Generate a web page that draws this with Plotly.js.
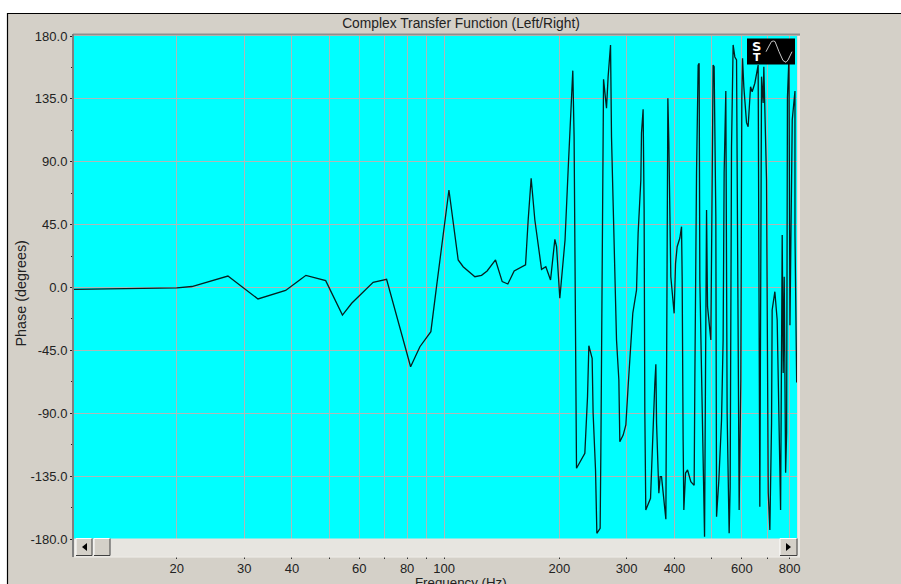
<!DOCTYPE html>
<html><head><meta charset="utf-8">
<script src="https://cdn.plot.ly/plotly-3.0.1.min.js"></script>
<style>html,body{margin:0;padding:0;background:#d4d0c8;overflow:hidden}</style>
</head><body><div id="chart" style="width:901px;height:584px"></div>
<script>
const titleText = "Complex Transfer Function (Left/Right)";
const xTitle = "Frequency (Hz)";
const yTitle = "Phase (degrees)";
const frequency = [10.77,13.8,17,20,21.9,27.2,32.6,38.5,41.9,43.5,49,54.2,57.3,62,65.2,70.7,81.7,86.4,92.3,95.5,102.9,108.8,112.1,120.3,125.2,129.5,136.2,141.8,146.7,152.4,163.2,165.8,168.8,172.6,179.7,184.4,189.7,194.7,196.7,200.6,207,210.9,
216.9,218.6,219.6,220.9,221.8,233.2,237,238.9,243.7,245.1,248.7,250.7,255.7,256.8,258.3,259.4,261,265.7,268.3,272.2,273.8,276.5,279.3,282.2,286.2,287.9,293.7,298.5,302.6,311.3,318.3,321.4,326.7,328,331.2,333.2,334.6,336.6,346.3,349.7,355.4,357.6,359.1,364.1,367,370,375.2,379.8,381,382.7,384.4,386.7,389,391.3,399.2,402.6,406.5,413.2,417.4,419,421.4,423.2,427.6,432.8,441.4,450.3,452.2,456.8,461.3,464,466,478.2,479.4,482.2,485.2,488.1,497.9,504.8,507.9,513.1,515.3,522.5,531,536.1,539.4,544.9,549.2,555.9,559.3,563.9,569.4,575.3,581.2,590.4,596.4,600,602.6,607.3,617.2,623.2,632.3,638.5,648.9,661.9,668.7,675.6,682.2,685,696.2,703,703.5,710.3,717.6,720.2,732,742.3,746.8,754.5,757.7,765.1,769.7,774.4,781,785.7,789.6,796.8,801.6,812.8,826.2,826.3,833,834.7];
const phase = [-1.4,-1.1,-0.7,-0.3,0.7,8.2,-8.2,-2.1,5.4,8.7,4.9,-19.7,-11.3,-2.5,3.7,5.9,-56.7,-42.4,-31.6,0.6,69.8,19.7,14.9,7.7,8.7,11.8,19.7,4.2,2.5,11.8,16.3,48.3,78.2,48.3,13,14.9,5.4,34.5,29.2,-7.7,34,84.1,
155.2,107.9,12.5,-82.7,-129.4,-118.7,-78.2,-41.7,-50.7,-89.8,-130.6,-175.9,-172.3,-118.7,-11.1,96,149,128.3,150.9,173.6,107.9,60.5,0.6,-37.6,-66.2,-110.4,-105.6,-98.4,-71,-18.3,-1.8,39,76.9,110.6,127.5,55.5,-87.7,-159.2,-150.9,-113.9,-68.6,-55,-97,-147.3,-135.4,-135.4,-152.1,-165.9,-89.8,5.4,135.4,103.4,39,7.7,-18.5,17.3,29.2,35.4,43.5,5.4,-109.1,-159.2,-132.8,-130.6,-139,-141.6,-66.2,82,159.2,160.5,5.4,-161.6,-178.4,-61.2,55.5,-13.7,-37.6,159.2,158,50.7,-164,-137.8,-94.8,-37.6,82,140.6,-89.8,-175.9,-142.6,100.8,173.6,165,162.8,-159.2,-66.2,136.6,164,143.7,118,115.1,143.7,140.1,146.2,159.2,-156.9,150.9,132,158,76.9,-135.4,-147.1,-173.6,-97,-16.1,-3,-23.3,-66.2,-159.2,-159.2,37.6,-61.2,7.7,-132.5,-104,136,165,-27,120,140.6,37.6,-42,-68,-81.3,-70];
const xTickVals = [20,30,40,50,60,70,80,90,100,200,300,400,500,600,700,800];
const xTickText = ["20","30","40","","60","","80","","100","200","300","400","","600","","800"];
const yTickVals = [180,135,90,45,0,-45,-90,-135,-180];
const yTickText = ["180.0","135.0","90.0","45.0","0.0","-45.0","-90.0","-135.0","-180.0"];

const FONT = "Liberation Sans, Arial, sans-serif";
const L=74,R=797,T=36,B=556,W=R-L,H=B-T;
const px=v=>(v-L)/W, py=v=>(B-v)/H;
function rect(x0,y0,x1,y1,fill,line,lw){return {type:'rect',xref:'paper',yref:'paper',x0:px(x0),x1:px(x1),y0:py(y0),y1:py(y1),fillcolor:fill,line:{color:line||fill,width:lw===undefined?0:lw},layer:'above'};}
function ln(x0,y0,x1,y1,c,w){return {type:'line',xref:'paper',yref:'paper',x0:px(x0),x1:px(x1),y0:py(y0),y1:py(y1),line:{color:c,width:w||1},layer:'above'};}
function tri(pts,c){return {type:'path',xref:'paper',yref:'paper',path:'M'+pts.map(p=>px(p[0])+','+py(p[1])).join('L')+'Z',fillcolor:c,line:{color:c,width:0},layer:'above'};}
function button(x0,x1){return [rect(x0,538.5,x1,555.5,'#d4d0c8'),ln(x0,538.5,x1,538.5,'#ffffff'),ln(x0,538.5,x0,555.5,'#ffffff'),ln(x0,555.5,x1,555.5,'#404040'),ln(x1,538.5,x1,555.5,'#404040')];}
function curve(){const p=[[766,51.7],[769,46],[771.5,41.5],[773.3,41],[775,41.5],[779,51.7],[783,60.5],[786,62.3],[788,60],[792,51.7]];
 return {type:'path',xref:'paper',yref:'paper',path:'M'+p.map(q=>px(q[0])+','+py(q[1])).join('L'),line:{color:'#c8c8c8',width:1},layer:'above'};}

const shapes=[
 rect(0,0,901,13,'#ffffff'),
 rect(0,0,7,584,'#ffffff'),
 ln(7,13.5,901,13.5,'#000000',1.2),
 ln(7.5,13,7.5,584,'#000000',1.2),
 rect(797.5,36,800,556,'#ecebe7'),
 rect(74,538.5,797,556,'#e7e5e0'),
 ...button(76,92),...button(94,110),...button(780,797),
 tri([[87,543],[87,551],[82,547]],'#000000'),
 tri([[786,543],[786,551],[791,547]],'#000000'),
 ln(73,34.5,800,34.5,'#8f8f8f',2),
 ln(73,34,73,557,'#808080',2),
 ln(74,556.8,800,556.8,'#f2f0ec',1.2),
 rect(747,38.5,795,64.5,'#000000'),
 curve()
];
const annotations=[
 {xref:'paper',yref:'paper',x:px(756.7),y:py(46),xanchor:'center',yanchor:'middle',text:'<b>S</b>',showarrow:false,font:{family:'DejaVu Sans',size:13,color:'#ffffff'}},
 {xref:'paper',yref:'paper',x:px(756.7),y:py(57.5),xanchor:'center',yanchor:'middle',text:'<b>T</b>',showarrow:false,font:{family:'DejaVu Sans',size:11,color:'#ffffff'}},
 {xref:'paper',yref:'paper',x:px(461),y:py(582.5),xanchor:'center',yanchor:'middle',text:xTitle,showarrow:false,font:{family:FONT,size:13.3,color:'#222222'}},
 {xref:'paper',yref:'paper',x:px(20.5),y:py(294),xanchor:'center',yanchor:'middle',textangle:-90,text:yTitle,showarrow:false,font:{family:FONT,size:14.4,color:'#222222'}}
];
Plotly.newPlot('chart',[{x:frequency,y:phase,type:'scatter',mode:'lines',line:{color:'#052020',width:1.3},hoverinfo:'skip',showlegend:false}],{
 width:901,height:584,
 margin:{l:L,r:901-R,t:T,b:584-B,pad:0},
 paper_bgcolor:'#d4d0c8',plot_bgcolor:'#00ffff',
 showlegend:false,
 title:{text:titleText,font:{family:FONT,size:13.8,color:'#222222'},x:461/901,xanchor:'center',y:1-23.5/584,yanchor:'middle'},
 xaxis:{type:'log',range:[1.0322,2.9224],anchor:'free',position:0,tickmode:'array',tickvals:xTickVals,ticktext:xTickText,ticks:'outside',ticklen:2,tickcolor:'#333333',tickwidth:1,tickangle:0,ticklabelstandoff:-2,
  showgrid:true,gridcolor:'#aeb8b8',gridwidth:1,zeroline:false,showline:false,tickfont:{family:FONT,size:13,color:'#222222'}},
 yaxis:{range:[-180,180],domain:[17/H,1],tickmode:'array',tickvals:yTickVals,ticktext:yTickText,ticks:'outside',ticklen:3,tickcolor:'#222222',
  minor:{tickmode:'array',tickvals:[157.5,112.5,67.5,22.5,-22.5,-67.5,-112.5,-157.5],ticks:'outside',ticklen:2,tickcolor:'#222222',showgrid:false},
  showgrid:true,gridcolor:'#aeb8b8',gridwidth:1,zeroline:false,showline:false,tickfont:{family:FONT,size:13,color:'#222222'}},
 shapes,annotations
},{displayModeBar:false,staticPlot:true});
</script></body></html>
